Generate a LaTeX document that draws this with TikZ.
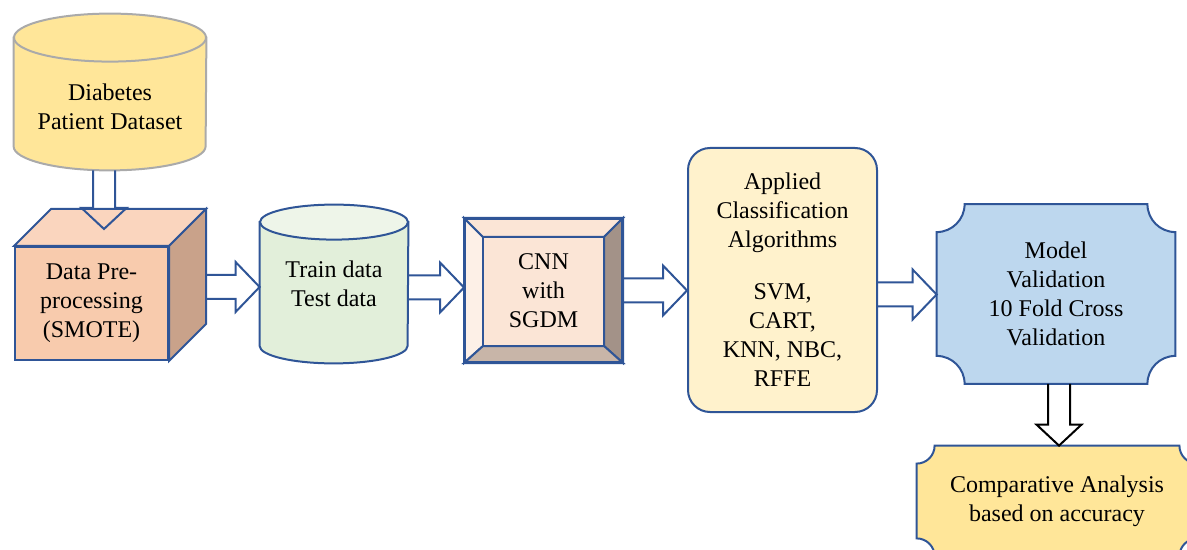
\documentclass[tikz,border=0pt]{standalone}
\usepackage{fontspec}
\setmainfont{Liberation Serif}
\newfontfamily\diagfont{Liberation Serif}
\usetikzlibrary{calc,backgrounds}
\definecolor{edge}{RGB}{47,85,151}
\definecolor{dbgrey}{RGB}{170,170,170}
\definecolor{gold}{RGB}{255,230,153}
\definecolor{peach}{RGB}{248,203,173}
\definecolor{peachtop}{RGB}{250,213,190}
\definecolor{peachside}{RGB}{201,162,138}
\definecolor{mint}{RGB}{226,239,218}
\definecolor{minttop}{RGB}{238,245,233}
\definecolor{cnnin}{RGB}{251,229,214}
\definecolor{cnnleft}{RGB}{253,240,231}
\definecolor{cnnright}{RGB}{163,146,136}
\definecolor{cnnbot}{RGB}{200,181,168}
\definecolor{cream}{RGB}{255,242,204}
\definecolor{sky}{RGB}{189,215,238}
% cylinder round a node: node, half width, cap centre below north, cap radius, line, body fill, cap fill
\newcommand{\dbcyl}[7]{%
  \filldraw[line width=1pt, draw=#5, fill=#6] ($(#1.north west)+(0,#3)$) -- ($(#1.south west)+(0,#4)$)
    arc[start angle=180, end angle=360, x radius=#2, y radius=#4] -- ($(#1.north east)+(0,#3)$) -- cycle;
  \filldraw[line width=1pt, draw=#5, fill=#7] ($(#1.north)+(0,#3)$) ellipse[x radius=#2, y radius=#4];}
% box with hollow corners: node, corner radius, fill
\newcommand{\notchbox}[3]{%
  \filldraw[line width=1pt, draw=edge, fill=#3] ($(#1.north west)+(#2,0)$) -- ($(#1.north east)+(-#2,0)$)
    arc[start angle=180, end angle=270, radius=#2] -- ($(#1.south east)+(0,#2)$)
    arc[start angle=90, end angle=180, radius=#2] -- ($(#1.south west)+(#2,0)$)
    arc[start angle=0, end angle=90, radius=#2] -- ($(#1.north west)+(0,-#2)$)
    arc[start angle=270, end angle=360, radius=#2] -- cycle;}
% hollow block arrows
\newcommand{\hollowR}[4][edge]{%
  \draw[line width=1pt, draw=#1] let \p1=(#2), \p2=(#3), \p3=(0,#4) in
    (\x1,\y3+6pt) -- (\x2-12pt,\y3+6pt) -- (\x2-12pt,\y3+12.5pt) -- (\x2,\y3)
    -- (\x2-12pt,\y3-12.5pt) -- (\x2-12pt,\y3-6pt) -- (\x1,\y3-6pt);}
\newcommand{\hollowD}[4][edge]{%
  \draw[line width=1pt, draw=#1] let \p1=(#2), \p2=(#3), \p3=(#4,0) in
    (\x3-5.5pt,\y1) -- (\x3-5.5pt,\y2+10.5pt) -- (\x3-11.25pt,\y2+10.5pt) -- (\x3,\y2)
    -- (\x3+11.25pt,\y2+10.5pt) -- (\x3+5.5pt,\y2+10.5pt) -- (\x3+5.5pt,\y1);}

\begin{document}
\begin{tikzpicture}[x=0.5pt, y=0.5pt,
  txt/.style={align=center, font=\diagfont\fontsize{12}{14.5}\selectfont},
  box/.style={txt, draw=edge, line width=1pt},
  face/.style={draw=edge, line width=1pt}]
  \useasboundingbox (0,0) rectangle (1187,-550);
  % main row
  \node[txt, minimum width=96pt, minimum height=63pt] (ds) at (110,-107) {Diabetes\\Patient Dataset};
  \node[box, fill=peach, minimum width=76.5pt, minimum height=56.5pt] (pre) at (91.5,-303.5) {Data Pre-\\processing\\(SMOTE)};
  \node[txt, minimum width=74pt, minimum height=79pt] (trn) at (334,-284) {Train data\\Test data};
  \node[box, minimum width=78.5pt, minimum height=71.5pt] (cnn) at (543.5,-290.5) {CNN\\with\\SGDM};
  \node[box, fill=cream, rounded corners=11pt, minimum width=94.5pt, minimum height=132pt] (alg) at (782.5,-280)
       {Applied\\Classification\\Algorithms\\[11.5pt]SVM,\\CART,\\KNN, NBC,\\RFFE};
  \node[txt, minimum width=119pt, minimum height=89.5pt] (mv) at (1056,-294) {Model\\Validation\\10 Fold Cross\\Validation};
  \node[txt, minimum width=140pt, minimum height=55pt] (cmp) at (1057,-501) {Comparative Analysis\\based on accuracy};
  % shapes behind the texts
  \begin{scope}[on background layer]
    \dbcyl{ds}{96}{6}{24}{dbgrey}{gold}{gold}
    \dbcyl{trn}{74}{-17.5}{17.5}{edge}{mint}{minttop}
    \filldraw[face, fill=cnnleft] (cnn.north west) -- (cnn.south west) -- ($(cnn.south west)+(19,17)$) -- ($(cnn.north west)+(19,-19)$) -- cycle;
    \filldraw[face, fill=cnnin] (cnn.north west) -- (cnn.north east) -- ($(cnn.north east)+(-19,-19)$) -- ($(cnn.north west)+(19,-19)$) -- cycle;
    \filldraw[face, fill=cnnright] (cnn.north east) -- (cnn.south east) -- ($(cnn.south east)+(-19,17)$) -- ($(cnn.north east)+(-19,-19)$) -- cycle;
    \filldraw[face, fill=cnnbot] (cnn.south west) -- (cnn.south east) -- ($(cnn.south east)+(-19,17)$) -- ($(cnn.south west)+(19,17)$) -- cycle;
    \filldraw[face, fill=cnnin] ($(cnn.north west)+(19,-19)$) rectangle ($(cnn.south east)+(-19,17)$);
    \notchbox{mv}{28}{sky}
    \notchbox{cmp}{18}{gold}
  \end{scope}
  % cube faces
  \filldraw[face, fill=peachtop] (pre.north west) -- ++(37,37) -- ($(pre.north east)+(37,37)$) -- (pre.north east) -- cycle;
  \filldraw[face, fill=peachside] (pre.north east) -- ++(37,37) -- ($(pre.south east)+(37,37)$) -- (pre.south east) -- cycle;
  % flow
  \hollowD{ds.south}{$(pre.north)+(0,17)$}{104}
  \hollowR{$(pre.east)+(37,0)$}{trn.west}{-287}
  \hollowR{trn.east}{cnn.west}{-287.5}
  \hollowR{cnn.east}{alg.west}{-290.5}
  \hollowR{alg.east}{mv.west}{-294.5}
  \hollowD[black]{mv.south}{cmp.north}{1059}
\end{tikzpicture}
\end{document}
